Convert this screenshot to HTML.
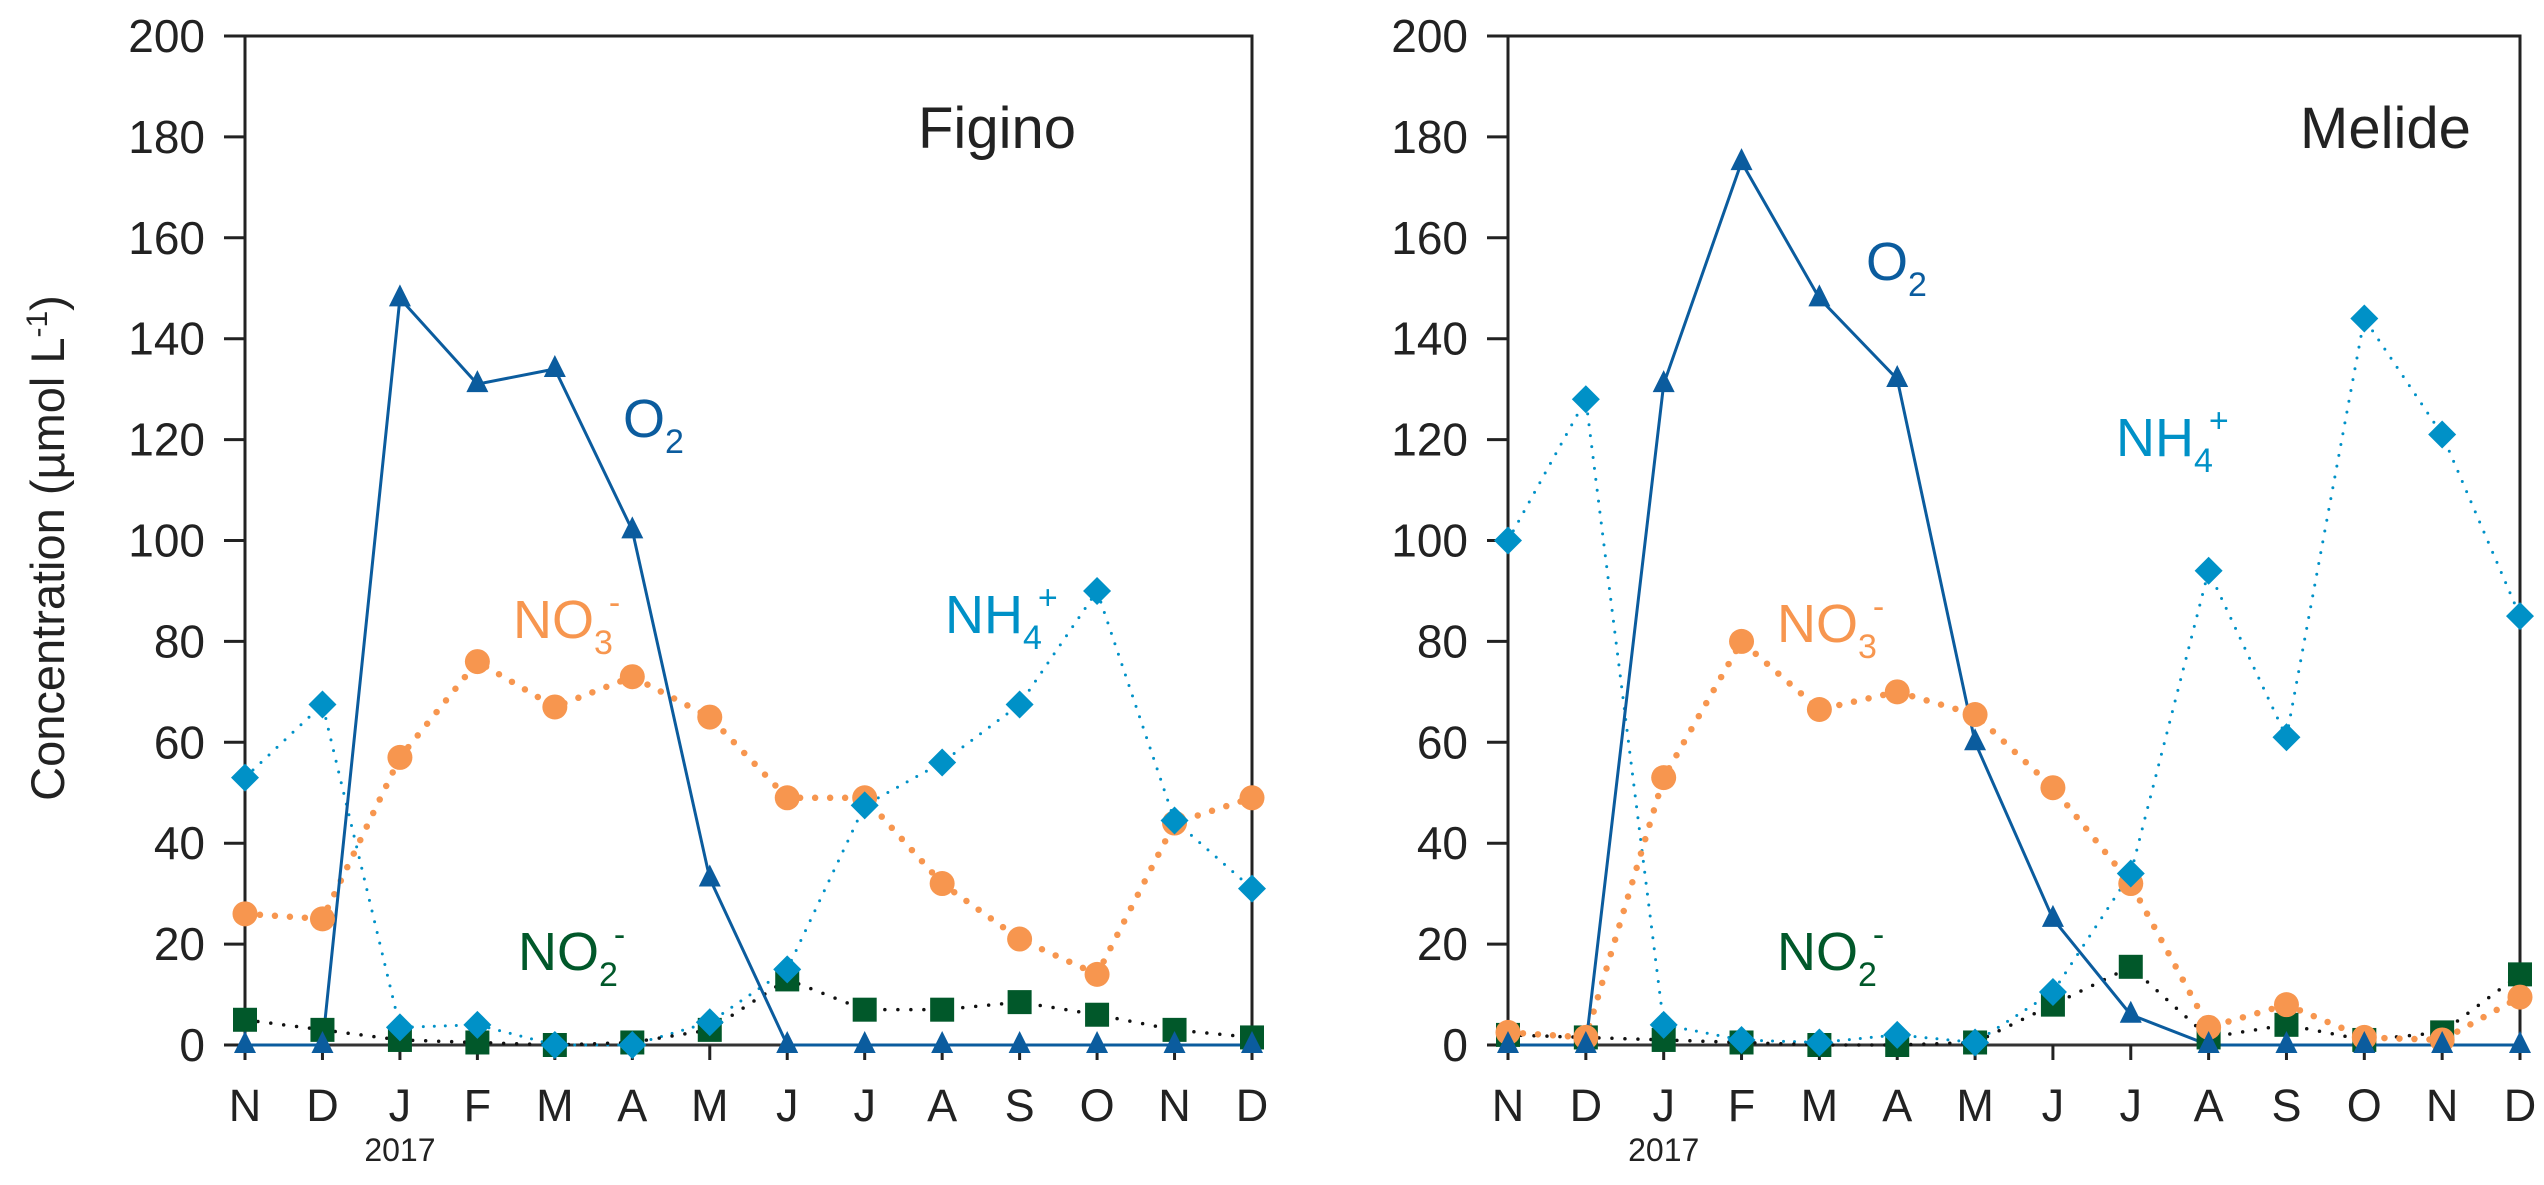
<!DOCTYPE html>
<html><head><meta charset="utf-8"><style>
html,body{margin:0;padding:0;background:#fff}
svg{display:block;font-family:"Liberation Sans",sans-serif}
</style></head><body>
<svg id="chart" width="2544" height="1185" viewBox="0 0 2544 1185" xmlns="http://www.w3.org/2000/svg">
<text transform="translate(64,548) rotate(-90)" text-anchor="middle" font-size="47" fill="#222">Concentration (µmol L<tspan dy="-17" font-size="30">-1</tspan><tspan dy="17">)</tspan></text>
</svg>
<script>
const months = ["N","D","J","F","M","A","M","J","J","A","S","O","N","D"];
const yTicks = [0,20,40,60,80,100,120,140,160,180,200];
const figO2  = [0,0,148,131,134,102,33,0,0,0,0,0,0,0];
const figNO3 = [26,25,57,76,67,73,65,49,49,32,21,14,44,49];
const figNH4 = [53,67.5,3.5,4,0,0,4.5,15,47.5,56,67.5,90,44.5,31];
const figNO2 = [5,3,1,0.5,0,0.5,3,13,7,7,8.5,6,3,1.5];
const melO2  = [0,0,131,175,148,132,60,25,6,0,0,0,0,0];
const melNO3 = [2.5,1.5,53,80,66.5,70,65.5,51,32,3.5,8,1.5,1,9.5];
const melNH4 = [100,128,4,1,0.5,2,0.5,10.5,34,94,61,144,121,85];
const melNO2 = [2,1.5,1,0.5,0,0,0.5,8,15.5,1.5,4,1,2.5,14];

const NS="http://www.w3.org/2000/svg";
const svg=document.getElementById('chart');
function el(tag,attrs,parent){const e=document.createElementNS(NS,tag);for(const k in attrs)e.setAttribute(k,attrs[k]);(parent||svg).appendChild(e);return e;}

const C={o2:"#0b5c9e",nh4:"#0091c7",no3:"#f7964f",no2:"#01582a"};

function panel(cfg){
  const g=el('g',{});
  
  
  const x0=cfg.x0,x1=cfg.x1,yTop=36,yBot=1045;
  const xs=i=>x0+(x1-x0)*i/(months.length-1);
  const ys=v=>yBot-(yBot-yTop)*v/200;
  const fr=el('path',{d:`M${x0},${yBot} L${x0},${yTop} L${x1},${yTop} L${x1},${yBot}`,fill:'none',stroke:'#222','stroke-width':3},g);
  
  
  const ax=el('line',{x1:x0-21,x2:x1,y1:yBot,y2:yBot,stroke:'#333','stroke-width':3},g);
  
  
  yTicks.forEach(v=>{
    el('line',{x1:x0-21,x2:x0,y1:ys(v),y2:ys(v),stroke:'#222','stroke-width':3},g);
    const t=el('text',{x:x0-40,y:ys(v)+16,'text-anchor':'end','font-size':46,fill:'#222'},g);
    t.textContent=v;
    
    
  });
  months.forEach((m,i)=>{
    el('line',{x1:xs(i),x2:xs(i),y1:yBot,y2:yBot+15,stroke:'#222','stroke-width':3},g);
    const t=el('text',{x:xs(i),y:1121,'text-anchor':'middle','font-size':45,fill:'#222'},g);
    t.textContent=m;
    
    
  });
  const yr=el('text',{x:xs(2),y:1161,'text-anchor':'middle','font-size':32,fill:'#222'},g);
  yr.textContent='2017';
  
  
  const ti=el('text',{x:cfg.titleX,y:148,'font-size':58,fill:'#222'},g);
  ti.textContent=cfg.title;
  
  

  function line(data,color,w,dash,name){
    const p=el('polyline',{points:data.map((v,i)=>xs(i)+','+ys(v)).join(' '),fill:'none',stroke:color,'stroke-width':w,'stroke-dasharray':dash,'stroke-linecap':'round'},g);
    
    
  }
  line(cfg.nh4,C.nh4,3,'0 11','nh4-line');
  line(cfg.no2,'#111',3.5,'0 13','no2-line');
  line(cfg.no3,C.no3,6.5,'0 15','no3-line');
  line(cfg.o2,C.o2,3,'','o2-line');
  cfg.no2.forEach((v,i)=>{const r=el('rect',{x:xs(i)-12,y:ys(v)-12,width:24,height:24,fill:C.no2},g);
    });
  cfg.no3.forEach((v,i)=>{const c=el('circle',{cx:xs(i),cy:ys(v),r:12.5,fill:C.no3},g);
    });
  cfg.nh4.forEach((v,i)=>{const x=xs(i),y=ys(v);const d=el('polygon',{points:`${x},${y-14} ${x+14},${y} ${x},${y+14} ${x-14},${y}`,fill:C.nh4},g);
    });
  cfg.o2.forEach((v,i)=>{const x=xs(i),y=ys(v);const d=el('polygon',{points:`${x},${y-14} ${x+11},${y+8} ${x-11},${y+8}`,fill:C.o2},g);
    });

  function label(x,y,main,sub,sup,color,name){
    const t=el('text',{x:x,y:y,'font-size':54,fill:color},g);
    
    
    t.appendChild(document.createTextNode(main));
    if(sub){const s=el('tspan',{dy:16,'font-size':34},t);s.textContent=sub;}
    if(sup){const s=el('tspan',{dy:-40,dx:-4,'font-size':34},t);s.textContent=sup;}
  }
  label(cfg.lab.o2[0],cfg.lab.o2[1],'O','2','',C.o2,'o2-label');
  label(cfg.lab.no3[0],cfg.lab.no3[1],'NO','3','-',C.no3,'no3-label');
  label(cfg.lab.nh4[0],cfg.lab.nh4[1],'NH','4','+',C.nh4,'nh4-label');
  label(cfg.lab.no2[0],cfg.lab.no2[1],'NO','2','-',C.no2,'no2-label');
}
panel({name:'figino',x0:245,x1:1252,title:'Figino',titleX:918,o2:figO2,no3:figNO3,nh4:figNH4,no2:figNO2,
  lab:{o2:[623,437],no3:[513,638],nh4:[945,633],no2:[518,970]}});
panel({name:'melide',x0:1508,x1:2520,title:'Melide',titleX:2300,o2:melO2,no3:melNO3,nh4:melNH4,no2:melNO2,
  lab:{o2:[1866,280],no3:[1777,642],nh4:[2116,456],no2:[1777,970]}});
</script>
</body></html>
